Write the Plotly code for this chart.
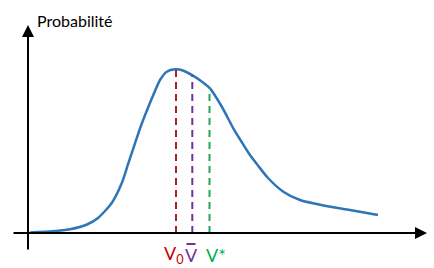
import plotly.graph_objects as go

# Curve (speed v, probability p) in chart units (origin at the axes crossing)
curve_v = [2, 25, 42, 59, 70, 83.7, 93.7, 100.3, 107, 113.7, 120.3, 125.3, 132, 138.7, 147, 155, 165, 173,
           182, 194, 205.3, 214, 222, 230, 240, 255.3, 272, 288.7, 305.3, 322, 350]
curve_p = [0.5, 1.7, 3.8, 8.5, 15, 30, 49.7, 69.7, 89.7, 109.2, 126, 138, 153, 161.3, 163.7, 162.5, 157.3, 152,
           144.7, 126, 104.7, 90.5, 78, 67.5, 55, 41.3, 33, 29, 25.7, 23, 18]

# Characteristic speeds and curve heights there
marker_names = ["V<sub>0</sub>", "V", "V*"]
marker_v = [148, 164.3, 181.5]
marker_p = [163.6, 157.5, 145.3]
marker_colors = ["#B0202A", "#7030A0", "#1FA85A"]
label_colors = ["#C00000", "#7030A0", "#00B050"]
label_v = [146, 163, 188]

axis_title = "Probabilité"

fig = go.Figure()

fig.add_trace(go.Scatter(x=curve_v, y=curve_p, mode="lines",
                         line=dict(color="#2E75B6", width=2.5, shape="spline", smoothing=0.7),
                         hoverinfo="skip", showlegend=False))

for v, p, c in zip(marker_v, marker_p, marker_colors):
    fig.add_trace(go.Scatter(x=[v, v], y=[0, p], mode="lines",
                             line=dict(color=c, width=2, dash="7px,5px"),
                             hoverinfo="skip", showlegend=False))

# overline of V-bar (mean speed symbol)
shapes = [dict(type="line", xref="x", yref="y", x0=label_v[1] - 4.5, x1=label_v[1] + 4.5,
               y0=-11, y1=-11, line=dict(color=label_colors[1], width=2))]
annotations = []
# x axis with arrow
annotations.append(dict(x=399, y=0, ax=-16, ay=0, xref="x", yref="y", axref="x", ayref="y",
                        text="", showarrow=True, arrowhead=2, arrowsize=1.2, arrowwidth=2,
                        arrowcolor="black"))
# y axis with arrow
annotations.append(dict(x=0, y=208, ax=0, ay=-18, xref="x", yref="y", axref="x", ayref="y",
                        text="", showarrow=True, arrowhead=2, arrowsize=1.2, arrowwidth=2,
                        arrowcolor="black"))

annotations.append(dict(x=7, y=213, xref="x", yref="y", text=axis_title, showarrow=False,
                        xanchor="left", yanchor="middle",
                        font=dict(family="Lato, Open Sans, sans-serif", size=16, color="black")))

for name, lv, c in zip(marker_names, label_v, label_colors):
    annotations.append(dict(x=lv, y=-21.5, xref="x", yref="y", text=name, showarrow=False,
                            xanchor="center", yanchor="middle",
                            font=dict(family="Lato, Open Sans, sans-serif", size=18, color=c)))

fig.update_layout(
    width=434, height=268,
    margin=dict(l=0, r=0, t=0, b=0),
    paper_bgcolor="white", plot_bgcolor="white",
    xaxis=dict(range=[-28, 406], visible=False, fixedrange=True),
    yaxis=dict(range=[-35, 233], visible=False, fixedrange=True),
    shapes=shapes, annotations=annotations,
    showlegend=False,
)

fig.write_html("out.html")
